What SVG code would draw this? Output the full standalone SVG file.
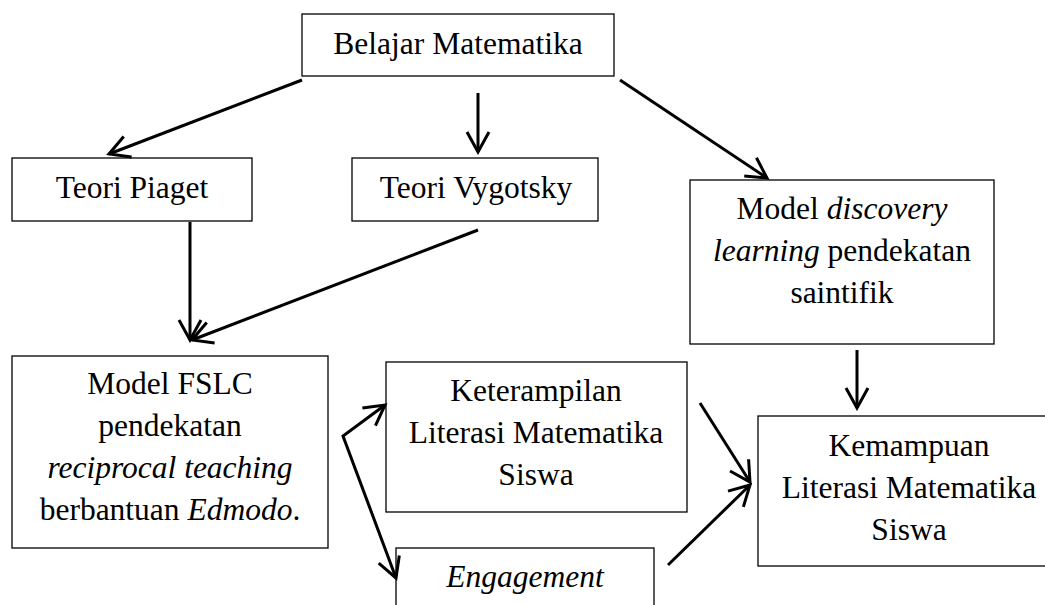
<svg xmlns="http://www.w3.org/2000/svg" width="1045" height="605" viewBox="0 0 1045 605">
<style>
.box{fill:#fff;stroke:#000;stroke-width:1.3}
.t{font-family:"Liberation Serif","Times New Roman",serif;font-size:31.5px;fill:#000;text-anchor:middle}
.i{font-style:italic}
.c{fill:none;stroke:#000;stroke-width:3}
</style>
<defs>
<marker id="ah" viewBox="-24 -14 27 28" refX="0" refY="0" markerWidth="27" markerHeight="28" markerUnits="userSpaceOnUse" orient="auto-start-reverse">
<path d="M-20,-11 L0,0 L-20,11" fill="none" stroke="#000" stroke-width="3"/>
</marker>
</defs>
<rect width="1045" height="605" fill="#fff"/>
<g id="belajar"><rect class="box" x="302" y="14" width="312" height="62"/><text class="t" x="458" y="54">Belajar Matematika</text></g>
<g id="piaget"><rect class="box" x="12" y="158" width="240" height="63"/><text class="t" x="132" y="198">Teori Piaget</text></g>
<g id="vygotsky"><rect class="box" x="352" y="158" width="246" height="63"/><text class="t" x="476" y="198">Teori Vygotsky</text></g>
<g id="discovery"><rect class="box" x="690" y="180" width="304" height="164"/>
<text class="t" x="842" y="219">Model <tspan class="i">discovery</tspan></text>
<text class="t" x="842" y="261"><tspan class="i">learning</tspan> pendekatan</text>
<text class="t" x="842" y="303">saintifik</text></g>
<g id="fslc"><rect class="box" x="12" y="356" width="316" height="192"/>
<text class="t" x="170" y="394">Model FSLC</text>
<text class="t" x="170" y="436">pendekatan</text>
<text class="t" x="170" y="478"><tspan class="i">reciprocal teaching</tspan></text>
<text class="t" x="170" y="520">berbantuan <tspan class="i">Edmodo</tspan>.</text></g>
<g id="keterampilan"><rect class="box" x="386" y="362" width="301" height="150"/>
<text class="t" x="536" y="401">Keterampilan</text>
<text class="t" x="536" y="443">Literasi Matematika</text>
<text class="t" x="536" y="485">Siswa</text></g>
<g id="engagement"><rect class="box" x="396" y="548" width="258" height="70"/>
<text class="t i" x="525" y="587">Engagement</text></g>
<g id="kemampuan"><rect class="box" x="758" y="416" width="302" height="150"/>
<text class="t" x="909" y="456">Kemampuan</text>
<text class="t" x="909" y="498">Literasi Matematika</text>
<text class="t" x="909" y="540">Siswa</text></g>
<g id="connectors">
<line class="c" x1="302" y1="80" x2="109" y2="154" marker-end="url(#ah)"/>
<line class="c" x1="478" y1="93" x2="478" y2="152" marker-end="url(#ah)"/>
<line class="c" x1="620" y1="80" x2="767" y2="178" marker-end="url(#ah)"/>
<line class="c" x1="190" y1="222" x2="190" y2="340" marker-end="url(#ah)"/>
<line class="c" x1="478" y1="230" x2="192" y2="340" marker-end="url(#ah)"/>
<polyline class="c" points="385,405 343,436 396,578" marker-start="url(#ah)" marker-end="url(#ah)"/>
<line class="c" x1="857" y1="350" x2="857" y2="408" marker-end="url(#ah)"/>
<line class="c" x1="700" y1="403" x2="750" y2="482" marker-end="url(#ah)"/>
<line class="c" x1="668" y1="565" x2="750" y2="485" marker-end="url(#ah)"/>
</g>
</svg>
